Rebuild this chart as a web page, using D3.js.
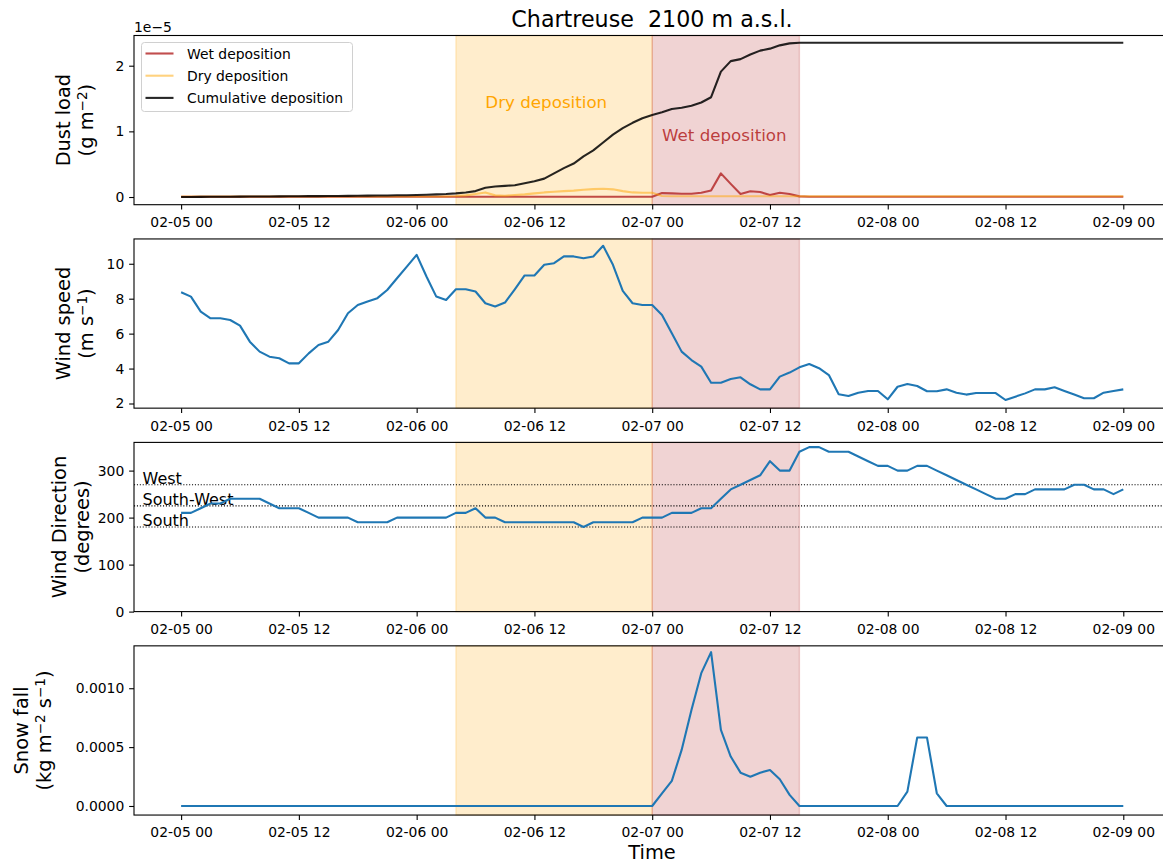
<!DOCTYPE html>
<html lang="en">
<head>
  <meta charset="UTF-8">
  <title>Chartreuse 2100 m a.s.l.</title>
  <script src="https://d3js.org/d3.v7.min.js"></script>
  <style>
    body { margin: 0; background: #fff; overflow: hidden; }
    svg { display: block; font-family: "DejaVu Sans", sans-serif; }
    .tick text { font-size: 13.9px; fill: #000; }
    .tick line { stroke: #000; stroke-width: 1.1; }
    .frame { fill: none; stroke: #000; stroke-width: 1.1; }
    .ylabel { font-size: 19.4px; fill: #000; }
    .series { fill: none; stroke-width: 2.1; stroke-linejoin: round; }
  </style>
</head>
<body>
  <svg width="1163" height="863"></svg>

  <script>
    // hourly values from 02-05 00 to 02-09 00 (97 points each)
    const startTime = new Date(Date.UTC(2021, 1, 5, 0));
    const endTime = new Date(Date.UTC(2021, 1, 9, 0));
    const dryStart = new Date(Date.UTC(2021, 1, 6, 4));
    const wetStart = new Date(Date.UTC(2021, 1, 7, 0));
    const wetEnd = new Date(Date.UTC(2021, 1, 7, 15));

    // dust load, in units of 1e-5 g m-2
    const wetDeposition = [
      0.004, 0.004, 0.004, 0.004, 0.004, 0.004, 0.004, 0.004, 0.004, 0.004, 0.004, 0.004,
      0.004, 0.004, 0.004, 0.004, 0.004, 0.004, 0.004, 0.004, 0.004, 0.004, 0.004, 0.004,
      0.004, 0.004, 0.004, 0.004, 0.004, 0.004, 0.004, 0.004, 0.004, 0.004, 0.004, 0.004,
      0.004, 0.004, 0.004, 0.004, 0.004, 0.004, 0.004, 0.004, 0.004, 0.004, 0.004, 0.004,
      0.005, 0.060, 0.056, 0.050, 0.050, 0.066, 0.100, 0.360, 0.200, 0.046, 0.087, 0.076,
      0.030, 0.066, 0.046, 0.010, 0.004, 0.004, 0.004, 0.004, 0.004, 0.004, 0.004, 0.004,
      0.004, 0.004, 0.004, 0.004, 0.004, 0.004, 0.004, 0.004, 0.004, 0.004, 0.004, 0.004,
      0.004, 0.004, 0.004, 0.004, 0.004, 0.004, 0.004, 0.004, 0.004, 0.004, 0.004, 0.004,
      0.004
    ];
    const dryDeposition = [
      0.008, 0.008, 0.008, 0.008, 0.008, 0.008, 0.008, 0.008, 0.008, 0.008, 0.008, 0.008,
      0.008, 0.008, 0.008, 0.008, 0.008, 0.008, 0.008, 0.008, 0.008, 0.008, 0.008, 0.008,
      0.008, 0.008, 0.008, 0.010, 0.015, 0.025, 0.045, 0.070, 0.025, 0.020, 0.030, 0.040,
      0.055, 0.070, 0.080, 0.090, 0.097, 0.110, 0.120, 0.127, 0.117, 0.090, 0.070, 0.066,
      0.066, 0.015, 0.012, 0.012, 0.012, 0.012, 0.012, 0.012, 0.012, 0.012, 0.012, 0.012,
      0.012, 0.012, 0.012, 0.012, 0.012, 0.012, 0.012, 0.012, 0.012, 0.012, 0.012, 0.012,
      0.012, 0.012, 0.012, 0.012, 0.012, 0.012, 0.012, 0.012, 0.012, 0.012, 0.012, 0.012,
      0.012, 0.012, 0.012, 0.012, 0.012, 0.012, 0.012, 0.012, 0.012, 0.012, 0.012, 0.012,
      0.012
    ];
    const cumulativeDeposition = [
      0.000, 0.001, 0.002, 0.003, 0.004, 0.005, 0.006, 0.007, 0.008, 0.009, 0.010, 0.011,
      0.012, 0.013, 0.014, 0.015, 0.016, 0.018, 0.019, 0.021, 0.022, 0.024, 0.026, 0.028,
      0.030, 0.034, 0.040, 0.046, 0.056, 0.070, 0.090, 0.140, 0.160, 0.170, 0.180, 0.210,
      0.240, 0.280, 0.360, 0.440, 0.510, 0.620, 0.710, 0.830, 0.950, 1.050, 1.130, 1.200,
      1.250, 1.290, 1.340, 1.360, 1.390, 1.440, 1.520, 1.910, 2.070, 2.100, 2.170, 2.230,
      2.260, 2.310, 2.340, 2.350, 2.350, 2.350, 2.350, 2.350, 2.350, 2.350, 2.350, 2.350,
      2.350, 2.350, 2.350, 2.350, 2.350, 2.350, 2.350, 2.350, 2.350, 2.350, 2.350, 2.350,
      2.350, 2.350, 2.350, 2.350, 2.350, 2.350, 2.350, 2.350, 2.350, 2.350, 2.350, 2.350,
      2.350
    ];

    // wind speed, m s-1
    const windSpeed = [
      8.37, 8.12, 7.26, 6.88, 6.88, 6.78, 6.46, 5.54, 4.97, 4.68, 4.59, 4.30,
      4.30, 4.87, 5.35, 5.54, 6.21, 7.17, 7.64, 7.84, 8.03, 8.50, 9.17, 9.84,
      10.51, 9.27, 8.12, 7.93, 8.54, 8.54, 8.41, 7.74, 7.55, 7.78, 8.54, 9.33,
      9.33, 9.94, 10.03, 10.42, 10.42, 10.32, 10.42, 11.03, 9.94, 8.45, 7.74, 7.64,
      7.64, 7.07, 6.02, 4.97, 4.49, 4.11, 3.19, 3.19, 3.40, 3.50, 3.10, 2.81,
      2.81, 3.54, 3.77, 4.07, 4.26, 4.02, 3.63, 2.53, 2.43, 2.62, 2.72, 2.72,
      2.24, 2.96, 3.12, 3.00, 2.70, 2.70, 2.81, 2.62, 2.51, 2.60, 2.60, 2.60,
      2.20, 2.39, 2.58, 2.81, 2.81, 2.93, 2.72, 2.51, 2.30, 2.30, 2.62, 2.72,
      2.81
    ];

    // wind direction, degrees
    const windDirection = [
      210, 210, 220, 230, 230, 240, 240, 240, 240, 230, 220, 220,
      220, 210, 200, 200, 200, 200, 190, 190, 190, 190, 200, 200,
      200, 200, 200, 200, 210, 210, 220, 200, 200, 190, 190, 190,
      190, 190, 190, 190, 190, 180, 190, 190, 190, 190, 190, 200,
      200, 200, 210, 210, 210, 220, 220, 240, 260, 270, 280, 290,
      320, 300, 300, 340, 350, 350, 340, 340, 340, 330, 320, 310,
      310, 300, 300, 310, 310, 300, 290, 280, 270, 260, 250, 240,
      240, 250, 250, 260, 260, 260, 260, 270, 270, 260, 260, 250,
      260
    ];
    const directionRefs = [
      {name: "West", value: 270},
      {name: "South-West", value: 225},
      {name: "South", value: 180}
    ];

    // snow fall, kg m-2 s-1
    const snowFall = [
      0, 0, 0, 0, 0, 0, 0, 0, 0, 0, 0, 0,
      0, 0, 0, 0, 0, 0, 0, 0, 0, 0, 0, 0,
      0, 0, 0, 0, 0, 0, 0, 0, 0, 0, 0, 0,
      0, 0, 0, 0, 0, 0, 0, 0, 0, 0, 0, 0,
      0, 0.000108, 0.000213, 0.000476, 0.000816, 0.001128, 0.001307, 0.000646, 0.000420, 0.000283, 0.000249, 0.000283,
      0.000306, 0.000227, 0.000094, 0, 0, 0, 0, 0, 0, 0, 0, 0,
      0, 0, 0.000122, 0.000581, 0.000581, 0.000108, 0, 0, 0, 0, 0, 0,
      0, 0, 0, 0, 0, 0, 0, 0, 0, 0, 0, 0,
      0
    ];

    const times = d3.utcHour.range(startTime, new Date(+endTime + 1));
    const xTicks = d3.utcHour.every(12).range(startTime, new Date(+endTime + 1));

    const svg = d3.select("svg");
    const pad = 4.8 * 3600e3;
    const x = d3.scaleUtc()
        .domain([new Date(+startTime - pad), new Date(+endTime + pad)])
        .range([134, 1170.4]);

    const panelHeight = 169.2;
    const panels = [
      {top: 35.5, domain: [-0.117, 2.46], ticks: [0, 1, 2], fmt: d3.format("d"),
       label: [[["Dust load"]], [["(g m"], ["\u22122", true], [")"]]], labelX: 70},
      {top: 238.95, domain: [1.734, 11.42], ticks: [2, 4, 6, 8, 10], fmt: d3.format("d"),
       label: [[["Wind speed"]], [["(m s"], ["\u22121", true], [")"]]], labelX: 70},
      {top: 442.4, domain: [0, 360], ticks: [0, 100, 200, 300], fmt: d3.format("d"),
       label: [[["Wind Direction"]], [["(degrees)"]]], labelX: 65.5},
      {top: 645.85, domain: [-0.000077, 0.00136], ticks: [0, 0.0005, 0.001], fmt: d3.format(".4f"),
       label: [[["Snow fall"]], [["(kg m"], ["\u22122", true], [" s"], ["\u22121", true], [")"]]], labelX: 27.5}
    ];

    panels.forEach(p => {
      p.y = d3.scaleLinear().domain(p.domain).range([p.top + panelHeight, p.top]);
      p.g = svg.append("g");

      // shaded periods
      [[dryStart, wetStart, "#ffa500"], [wetStart, wetEnd, "#b22222"]].forEach(([a, b, c]) => {
        p.g.append("rect")
            .attr("x", x(a)).attr("width", x(b) - x(a))
            .attr("y", p.top).attr("height", panelHeight)
            .attr("fill", c).attr("fill-opacity", 0.2)
            .attr("stroke", c).attr("stroke-opacity", 0.2).attr("stroke-width", 1.4);
      });
    });

    function drawLine(p, values, color, opacity) {
      const line = d3.line()
          .x((d, i) => x(times[i]))
          .y(d => p.y(d));
      p.g.append("path")
          .datum(values)
          .attr("class", "series")
          .attr("stroke", color)
          .attr("stroke-opacity", opacity)
          .attr("d", line);
    }

    // panel 1: dust
    const p1 = panels[0];
    drawLine(p1, wetDeposition, "#b22222", 0.8);
    drawLine(p1, dryDeposition, "#ffa500", 0.5);
    drawLine(p1, cumulativeDeposition, "#000", 0.85);

    p1.g.append("text")
        .attr("x", x(new Date(Date.UTC(2021, 1, 6, 7))))
        .attr("y", p1.y(1.36))
        .attr("fill", "#ffa500")
        .style("font-size", "16.7px")
        .text("Dry deposition");
    p1.g.append("text")
        .attr("x", x(new Date(Date.UTC(2021, 1, 7, 1))))
        .attr("y", p1.y(0.85))
        .attr("fill", "#b22222").attr("fill-opacity", 0.85)
        .style("font-size", "16.7px")
        .text("Wet deposition");

    // legend
    const legendItems = [
      {name: "Wet deposition", color: "#b22222", opacity: 0.8},
      {name: "Dry deposition", color: "#ffa500", opacity: 0.5},
      {name: "Cumulative deposition", color: "#000", opacity: 0.85}
    ];
    const legend = svg.append("g");
    legend.append("rect")
        .attr("x", 141.5).attr("y", 42.5).attr("width", 211).attr("height", 69)
        .attr("rx", 3)
        .attr("fill", "#fff").attr("fill-opacity", 0.8)
        .attr("stroke", "#d0d0d0");
    legendItems.forEach((d, i) => {
      const ly = 53.5 + i * 22.2;
      legend.append("line")
          .attr("x1", 145.5).attr("x2", 173.5).attr("y1", ly).attr("y2", ly)
          .attr("stroke", d.color).attr("stroke-opacity", d.opacity).attr("stroke-width", 2.1);
      legend.append("text")
          .attr("x", 187).attr("y", ly)
          .attr("dominant-baseline", "central")
          .style("font-size", "13.9px")
          .text(d.name);
    });

    svg.append("text")
        .attr("x", 134).attr("y", 31.5)
        .style("font-size", "13.9px")
        .text("1e\u22125");

    // panel 2: wind speed
    drawLine(panels[1], windSpeed, "#1f77b4", 1);

    // panel 3: wind direction
    const p3 = panels[2];
    directionRefs.forEach(r => {
      p3.g.append("line")
          .attr("x1", x.range()[0]).attr("x2", x.range()[1])
          .attr("y1", p3.y(r.value)).attr("y2", p3.y(r.value))
          .attr("stroke", "#000").attr("stroke-width", 1.1)
          .attr("stroke-dasharray", "1.1,1.8");
      p3.g.append("text")
          .attr("x", x.range()[0] + 8.5)
          .attr("y", p3.y(r.value) - 1)
          .style("font-size", "16px")
          .text(r.name);
    });
    drawLine(p3, windDirection, "#1f77b4", 1);

    // panel 4: snow fall
    drawLine(panels[3], snowFall, "#1f77b4", 1);

    // axes, frames and labels
    panels.forEach(p => {
      const bottom = p.top + panelHeight;
      const xa = svg.append("g")
          .attr("transform", "translate(0," + bottom + ")")
          .call(d3.axisBottom(x).tickValues(xTicks).tickFormat(d3.utcFormat("%m-%d %H"))
              .tickSize(4.86).tickPadding(7.7));
      xa.select(".domain").remove();

      const ya = svg.append("g")
          .attr("transform", "translate(134,0)")
          .call(d3.axisLeft(p.y).tickValues(p.ticks).tickFormat(p.fmt)
              .tickSize(4.86).tickPadding(4.86));
      ya.select(".domain").remove();
      svg.selectAll(".tick text").attr("font-family", null);

      svg.append("rect")
          .attr("class", "frame")
          .attr("x", x.range()[0]).attr("y", p.top)
          .attr("width", x.range()[1] - x.range()[0]).attr("height", panelHeight);

      // two-line rotated label
      const cy = p.top + panelHeight / 2;
      p.label.forEach((parts, li) => {
        const t = svg.append("text")
            .attr("class", "ylabel")
            .attr("text-anchor", "middle")
            .attr("transform", "translate(" + (p.labelX + li * 23.3) + "," + cy + ") rotate(-90)");
        let raised = false;
        parts.forEach(([s, sup]) => {
          const ts = t.append("tspan").text(s);
          if (sup && !raised) { ts.attr("dy", "-0.45em").style("font-size", "13.6px"); raised = true; }
          else if (sup) { ts.style("font-size", "13.6px"); }
          else if (raised) { ts.attr("dy", "6.1px"); raised = false; }
        });
      });
    });

    svg.selectAll(".tick text").style("font-family", "DejaVu Sans");

    svg.append("text")
        .attr("x", 652).attr("y", 26.7)
        .attr("text-anchor", "middle")
        .style("font-size", "22.2px")
        .style("white-space", "pre")
        .text("Chartreuse  2100 m a.s.l.");

    svg.append("text")
        .attr("x", 652).attr("y", 859)
        .attr("text-anchor", "middle")
        .style("font-size", "19.4px")
        .text("Time");
  </script>
</body>
</html>
